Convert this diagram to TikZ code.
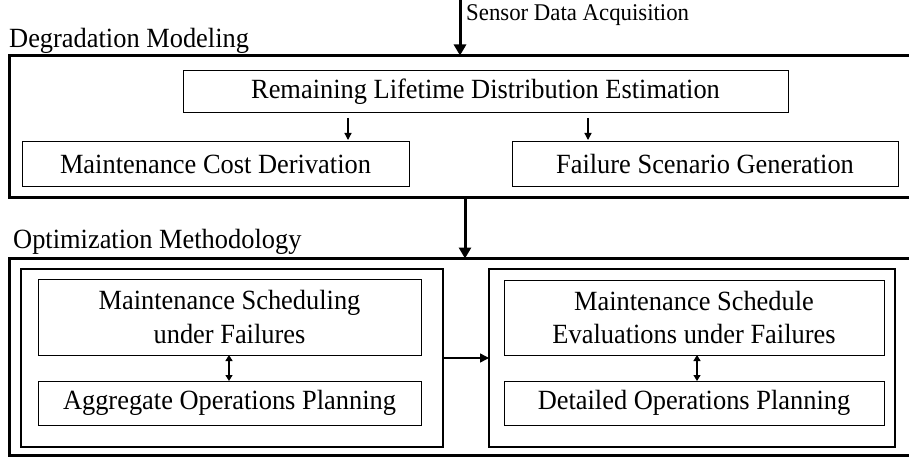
\documentclass[tikz,border=0pt]{standalone}
\usepackage{fontspec}
\setmainfont{Liberation Serif}[FakeStretch=0.95]
\usetikzlibrary{arrows.meta}
\begin{document}
\begin{tikzpicture}[x=1pt,y=-1pt,
  txt/.style={font=\fontsize{27.8}{33.5}\selectfont},
  outerbox/.style={draw,line width=3pt,inner sep=0pt,outer sep=0pt},
  groupbox/.style={draw,line width=1.8pt,inner sep=0pt,outer sep=0pt},
  itembox/.style={draw,line width=1pt,inner sep=0pt,outer sep=0pt,align=center,txt},
  bigarrow/.style={line width=3pt,-{Triangle[length=11pt,width=12pt]}},
  smallarrow/.style={line width=1.3pt,-{Triangle[length=7pt,width=7pt]}},
  dblarrow/.style={line width=1.3pt,{Triangle[length=6pt,width=7pt]}-{Triangle[length=6pt,width=7pt]}},
  lbl/.style={anchor=west,inner sep=0pt,txt}]
\useasboundingbox (0,0) rectangle (909,457);
\fill[white] (0,0) rectangle (909,457);
% outer boxes
\node[outerbox,minimum width=906pt,minimum height=141.5pt] (deg) at (462,126.25) {};
\node[outerbox,minimum width=906pt,minimum height=196.5pt] (opt) at (462,356.75) {};
% labels
\node[lbl] (deglbl) at (9,41) {Degradation Modeling};
\node[lbl] (optlbl) at (13,242) {Optimization Methodology};
\node[lbl,font=\fontsize{24}{28}\selectfont] (sensor) at (466,15) {Sensor Data Acquisition};
% degradation items
\node[itembox,minimum width=605pt,minimum height=42pt] (rlde) at (485.5,92) {Remaining Lifetime Distribution Estimation};
\node[itembox,minimum width=387pt,minimum height=44pt] (mcd) at (215.5,164) {Maintenance Cost Derivation};
\node[itembox,minimum width=386pt,minimum height=44pt] (fsg) at (705,164) {Failure Scenario Generation};
% optimization groups
\node[groupbox,minimum width=422pt,minimum height=178pt] (lgrp) at (232,358) {};
\node[groupbox,minimum width=406pt,minimum height=178pt] (rgrp) at (692,358) {};
\node[itembox,minimum width=383pt,minimum height=76pt] (msuf) at (229.5,317) {Maintenance Scheduling\\under Failures};
\node[itembox,minimum width=383pt,minimum height=44pt] (aop) at (229.5,403) {Aggregate Operations Planning};
\node[itembox,minimum width=380pt,minimum height=75pt] (mseuf) at (694,317.5) {Maintenance Schedule\\Evaluations under Failures};
\node[itembox,minimum width=380pt,minimum height=44pt] (dop) at (694,403) {Detailed Operations Planning};
% connectors
\coordinate (sensortop) at (460,0);
\draw[bigarrow] (sensortop) -- (sensortop |- deg.north);
\draw[bigarrow] ([xshift=3pt]deg.south) -- ([xshift=3pt]opt.north);
\draw[smallarrow,shorten <=5pt,shorten >=2pt] (rlde.south -| 348,0) -- (mcd.north -| 348,0);
\draw[smallarrow,shorten <=5pt,shorten >=2pt] (rlde.south -| 588,0) -- (fsg.north -| 588,0);
\draw[dblarrow] (msuf.south -| 229,0) -- (aop.north -| 229,0);
\draw[dblarrow] (mseuf.south -| 697,0) -- (dop.north -| 697,0);
\draw[line width=1.5pt,-{Triangle[length=9pt,width=9pt]}] (lgrp.east) -- (rgrp.west);
\end{tikzpicture}
\end{document}
